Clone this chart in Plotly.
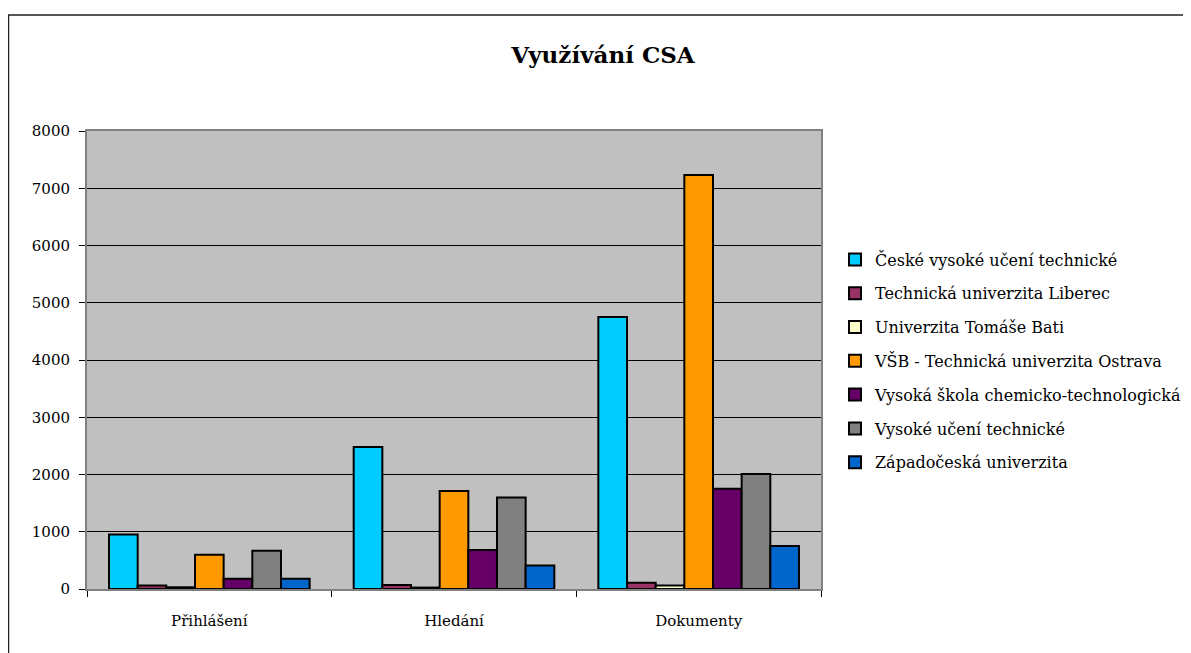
import plotly.graph_objects as go

categories = ["Přihlášení", "Hledání", "Dokumenty"]

series_names = [
    "České vysoké učení technické",
    "Technická univerzita Liberec",
    "Univerzita Tomáše Bati",
    "VŠB - Technická univerzita Ostrava",
    "Vysoká škola chemicko-technologická",
    "Vysoké učení technické",
    "Západočeská univerzita",
]

cvut = [950, 2480, 4750]
tul = [60, 70, 110]
utb = [30, 25, 60]
vsb = [600, 1710, 7230]
vscht = [180, 680, 1750]
vut = [670, 1600, 2010]
zcu = [180, 410, 750]

series_values = [cvut, tul, utb, vsb, vscht, vut, zcu]
colors = ["#00CCFF", "#993366", "#FFFFCC", "#FF9900", "#660066", "#808080", "#0066CC"]

FONT = "DejaVu Serif"

fig = go.Figure()
for i, (name, vals, col) in enumerate(zip(series_names, series_values, colors)):
    fig.add_trace(go.Bar(
        x=categories, y=vals, name=name, legendgroup=f"g{i}",
        marker=dict(color=col, line=dict(color="black", width=2)),
    ))

# page body has an 8px margin -> figure coordinates = screen - 8
OFF = 8
FW, FH = 1191 - OFF, 653 - OFF
L, T, W, H = 87 - OFF, 131 - OFF, 734, 458

fig.update_layout(
    width=FW, height=FH,
    margin=dict(l=L, r=FW - L - W, t=T, b=FH - T - H, pad=0, autoexpand=False),
    paper_bgcolor="white",
    plot_bgcolor="#C0C0C0",
    barmode="group",
    bargap=0.18,
    bargroupgap=0,
    font=dict(family=FONT, size=15, color="black"),
    title=dict(text="<b>Využívání CSA</b>", x=(603 - OFF) / FW, xanchor="center",
               y=1 - (55 - OFF) / FH, yanchor="middle", yref="container",
               font=dict(family=FONT, size=23, color="black")),
    legend=dict(x=(835 - OFF - L) / W, xanchor="left", y=(T + H - (361 - OFF)) / H, yanchor="middle",
                font=dict(family=FONT, size=16, color="black"),
                tracegroupgap=10, itemwidth=30, bgcolor="rgba(0,0,0,0)"),
    showlegend=True,
)

fig.update_xaxes(
    showline=True, linecolor="#808080", linewidth=2, mirror=True,
    ticks="outside", tickson="boundaries", ticklen=6, tickcolor="black", tickwidth=1,
    tickfont=dict(family=FONT, size=15, color="black"),
    ticklabelstandoff=17,
    showgrid=False,
)
fig.update_yaxes(
    range=[0, 8000], dtick=1000, tick0=0,
    showline=True, linecolor="#808080", linewidth=2, mirror=True,
    ticks="outside", ticklen=6, tickcolor="black", tickwidth=1,
    tickfont=dict(family=FONT, size=15, color="black"),
    ticklabelstandoff=6,
    showgrid=True, gridcolor="black", gridwidth=1,
    zeroline=False,
)

# outer chart border (extends beyond visible canvas on right/bottom)
fig.add_shape(type="rect", xref="paper", yref="paper",
              x0=(8.5 - OFF - L) / W, x1=(1200 - OFF - L) / W,
              y0=(T + H - (665 - OFF)) / H, y1=(T + H - (15 - OFF)) / H,
              line=dict(color="#222222", width=1.5), fillcolor="rgba(0,0,0,0)",
              layer="below")

fig.write_html("out.html")
